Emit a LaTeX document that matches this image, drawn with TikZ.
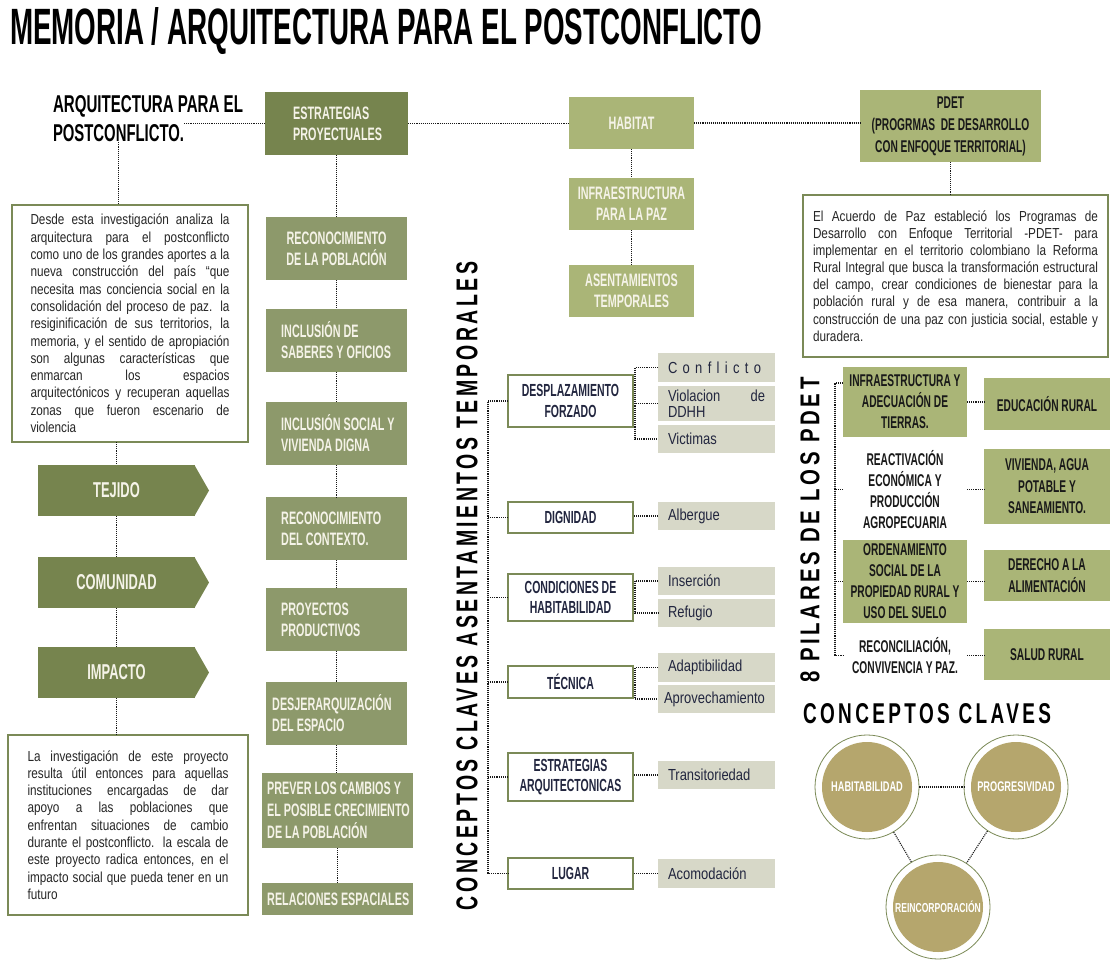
\documentclass[tikz,border=0pt]{standalone}
\usepackage{fontspec}
\setmainfont{Liberation Sans}
\newfontfamily\bebas[FakeStretch=0.6]{Liberation Sans}
\newfontfamily\bebaswide[FakeStretch=0.66]{Liberation Sans}
\newfontfamily\bebasls[FakeStretch=0.9,LetterSpace=16]{Liberation Sans}
\newfontfamily\narrowf[FakeStretch=0.81]{Liberation Sans}
\usetikzlibrary{calc}
\definecolor{dkgreen}{HTML}{76844E}
\definecolor{midgreen}{HTML}{8D996B}
\definecolor{ltgreen}{HTML}{AAB577}
\definecolor{brdgreen}{HTML}{7B8A57}
\definecolor{greyb}{HTML}{D7D8C8}
\definecolor{gold}{HTML}{B5A66D}
\definecolor{navy}{HTML}{22263F}
\definecolor{cream}{HTML}{F5F3E8}
\definecolor{txtdark}{HTML}{262626}
\tikzset{
  dl/.style={densely dotted, line width=1.1pt, black!90},
  base/.style={anchor=north west, inner sep=0pt, outer sep=0pt},
  bfont/.style={font=\bebas\bfseries\fontsize{18}{21}\selectfont},
  stratbox/.style={base, fill=midgreen, minimum width=141pt, minimum height=63pt},
  strattxt/.style={anchor=west, inner sep=0pt, align=left, text=cream, bfont},
  arw/.style={base, fill=dkgreen, minimum width=157pt, minimum height=51pt, text=cream,
     font=\bebas\bfseries\fontsize{21.5}{24}\selectfont},
  tbox/.style={base, draw=brdgreen, line width=2.5pt, fill=white, text=txtdark, align=justify,
     font={\narrowf\fontsize{14.5}{17.3}\selectfont\tolerance=9999 \hyphenpenalty=10000 \exhyphenpenalty=10000 }},
  lbox/.style={base, fill=ltgreen, minimum width=125pt, minimum height=52pt, align=center, text=cream, bfont},
  cbox/.style={base, draw=brdgreen, line width=2.5pt, fill=white, minimum width=125pt, align=center,
     text=navy, font=\bebas\bfseries\fontsize{17.5}{20.5}\selectfont},
  gbox/.style={base, fill=greyb, minimum width=117pt, text width=97pt, inner xsep=10pt, align=left,
     text=navy, font=\narrowf\fontsize{16}{16}\selectfont},
  pbox/.style={base, minimum width=124pt, align=center, text=black!90,
     font=\bebas\bfseries\fontsize{17}{21}\selectfont},
  rbox/.style={base, fill=ltgreen, minimum width=126pt, align=center, text=black!90,
     font=\bebas\bfseries\fontsize{17}{21.5}\selectfont},
  circ/.style={circle, minimum size=104pt, inner sep=0pt, draw=brdgreen, line width=0.8pt, fill=white,
     text=white, font=\bebaswide\bfseries\fontsize{14}{16}\selectfont,
     path picture={\fill[gold] (path picture bounding box.center) circle (45pt);}},
}
\begin{document}
\begin{tikzpicture}[x=1pt,y=-1pt]
\useasboundingbox (0,0) rectangle (1110,963);
\fill[white] (0,0) rectangle (1110,963);

% headings
\node[base] (title) at (10,8) {\resizebox{752pt}{37pt}{\bebas\bfseries MEMORIA / ARQUITECTURA PARA EL POSTCONFLICTO}};
\node[base] (h1) at (53,96) {\resizebox{190pt}{17pt}{\bebas\bfseries ARQUITECTURA PARA EL}};
\node[base] (h2) at (53,125) {\resizebox{131pt}{17pt}{\bebas\bfseries POSTCONFLICTO.}};

% left text boxes and arrows
\node[tbox, text width=199pt, inner xsep=18.5pt, minimum height=237pt] (t1) at (12,205) {Desde esta investigación analiza la\linebreak
arquitectura para el postconflicto\linebreak
como uno de los grandes aportes a la\linebreak
nueva construcción del país “que\linebreak
necesita mas conciencia social en la\linebreak
consolidación del proceso de paz. la\linebreak
resiginificación de sus territorios, la\linebreak
memoria, y el sentido de apropiación\linebreak
son algunas características que\linebreak
enmarcan los espacios\linebreak
arquitectónicos y recuperan aquellas\linebreak
zonas que fueron escenario de\linebreak
violencia};
\node[arw] (tej) at (38,465) {TEJIDO};
\node[arw] (com) at (38,557) {COMUNIDAD};
\node[arw] (imp) at (38,647) {IMPACTO};
\foreach \n in {tej,com,imp}{
  \fill[dkgreen] ([xshift=-0.6pt]\n.north east) -- ([xshift=14pt]\n.east) -- ([xshift=-0.6pt]\n.south east) -- cycle;
}
\node[tbox, text width=201pt, inner xsep=19.5pt, minimum height=180pt] (t2) at (8,735) {La investigación de este proyecto\linebreak
resulta útil entonces para aquellas\linebreak
instituciones encargadas de dar\linebreak
apoyo a las poblaciones que\linebreak
enfrentan situaciones de cambio\linebreak
durante el postconflicto. la escala de\linebreak
este proyecto radica entonces, en el\linebreak
impacto social que pueda tener en un\linebreak
futuro};

% strategy column
\node[stratbox, fill=dkgreen, minimum width=143pt] (s0) at (265,92) {};
\node[strattxt] (s0t) at ([xshift=28pt]s0.west) {ESTRATEGIAS\\PROYECTUALES};
\node[stratbox, align=center, text=cream, bfont] (s1) at (266,217) {RECONOCIMIENTO\\DE LA POBLACIÓN};
\node[stratbox] (s2) at (266,309) {};
\node[strattxt] (s2t) at ([xshift=15pt]s2.west) {INCLUSIÓN DE\\SABERES Y OFICIOS};
\node[stratbox] (s3) at (266,402) {};
\node[strattxt] (s3t) at ([xshift=15pt]s3.west) {INCLUSIÓN SOCIAL Y\\VIVIENDA DIGNA};
\node[stratbox] (s4) at (266,497) {};
\node[strattxt] (s4t) at ([xshift=15pt]s4.west) {RECONOCIMIENTO\\DEL CONTEXTO.};
\node[stratbox] (s5) at (266,588) {};
\node[strattxt] (s5t) at ([xshift=15pt]s5.west) {PROYECTOS\\PRODUCTIVOS};
\node[stratbox] (s6) at (266,682) {};
\node[strattxt] (s6t) at ([xshift=6pt]s6.west) {DESJERARQUIZACIÓN\\DEL ESPACIO};
\node[stratbox, minimum width=151pt, minimum height=75pt] (s7) at (262,773) {};
\node[strattxt, font=\bebas\bfseries\fontsize{18}{22}\selectfont] (s7t) at ([xshift=5pt]s7.west) {PREVER LOS CAMBIOS Y\\EL POSIBLE CRECIMIENTO\\DE LA POBLACIÓN};
\node[stratbox, minimum width=151pt, minimum height=32pt] (s8) at (262,883) {};
\node[strattxt] (s8t) at ([xshift=5pt]s8.west) {RELACIONES ESPACIALES};

% habitat column
\node[lbox] (hab) at (569,97) {HABITAT};
\node[lbox] (inf) at (569,178) {INFRAESTRUCTURA\\PARA LA PAZ};
\node[lbox] (ase) at (569,265) {ASENTAMIENTOS\\TEMPORALES};

% PDET
\node[base, fill=ltgreen, minimum width=181pt, minimum height=72pt, align=center, text=black!90,
  font=\bebas\bfseries\fontsize{17}{22}\selectfont] (pdet) at (860,90) {PDET\\(PROGRMAS\ \ DE DESARROLLO\\CON ENFOQUE TERRITORIAL)};
\node[tbox, text width=285pt, inner xsep=10pt, minimum height=162pt, font={\narrowf\fontsize{14.5}{17.1}\selectfont\tolerance=9999 \hyphenpenalty=10000 }] (t3) at (803,195) {El Acuerdo de Paz estableció los Programas de\linebreak
Desarrollo con Enfoque Territorial -PDET- para\linebreak
implementar en el territorio colombiano la Reforma\linebreak
Rural Integral que busca la transformación estructural\linebreak
del campo, crear condiciones de bienestar para la\linebreak
población rural y de esa manera, contribuir a la\linebreak
construcción de una paz con justicia social, estable y\linebreak
duradera.};

% vertical headings
\node[rotate=90, inner sep=0pt] (v1) at (467,586) {\resizebox{648pt}{21pt}{\bebasls\bfseries CONCEPTOS CLAVES ASENTAMIENTOS TEMPORALES}};
\node[rotate=90, inner sep=0pt] (v2) at (810,530) {\resizebox{305pt}{19pt}{\bebasls\bfseries 8 PILARES DE LOS PDET}};

% concept boxes
\node[cbox, minimum height=52pt] (d1) at (508,375) {DESPLAZAMIENTO\\FORZADO};
\node[cbox, minimum height=31pt] (d2) at (508,502) {DIGNIDAD};
\node[cbox, minimum height=47pt] (d3) at (508,574) {CONDICIONES DE\\HABITABILIDAD};
\node[cbox, minimum height=32pt] (d4) at (508,666) {TÉCNICA};
\node[cbox, minimum height=48pt] (d5) at (508,753) {ESTRATEGIAS\\ARQUITECTONICAS};
\node[cbox, minimum height=31pt] (d6) at (508,858) {LUGAR};

% grey boxes
\node[gbox, minimum height=29pt] (g1) at (658,353) {C o n f l i c t o};
\node[gbox, minimum height=35pt] (g2) at (658,386) {Violacion\hfill de\\DDHH};
\node[gbox, minimum height=28pt] (g3) at (658,425) {Victimas};
\node[gbox, minimum height=28pt] (g4) at (658,502) {Albergue};
\node[gbox, minimum height=28pt] (g5) at (658,567) {Inserción};
\node[gbox, minimum height=28pt] (g6) at (658,599) {Refugio};
\node[gbox, minimum height=29pt] (g7) at (658,653) {Adaptibilidad};
\node[gbox, minimum height=28pt, inner xsep=6pt, text width=105pt] (g8) at (658,685) {Aprovechamiento};
\node[gbox, minimum height=28pt] (g9) at (658,761) {Transitoriedad};
\node[gbox, minimum height=29pt] (g10) at (658,859) {Acomodación};

% pillars
\node[pbox, fill=ltgreen, minimum height=70pt] (p1) at (843,367) {INFRAESTRUCTURA Y\\ADECUACIÓN DE\\TIERRAS.};
\node[pbox, minimum height=77pt] (p2) at (843,450) {REACTIVACIÓN\\ECONÓMICA Y\\PRODUCCIÓN\\AGROPECUARIA};
\node[pbox, fill=ltgreen, minimum height=83pt] (p3) at (843,540) {ORDENAMIENTO\\SOCIAL DE LA\\PROPIEDAD RURAL Y\\USO DEL SUELO};
\node[pbox, minimum height=33pt] (p4) at (843,637) {RECONCILIACIÓN,\\CONVIVENCIA Y PAZ.};
\node[rbox, minimum height=52pt] (r1) at (984,378) {EDUCACIÓN RURAL};
\node[rbox, minimum height=75pt] (r2) at (984,449) {VIVIENDA, AGUA\\POTABLE Y\\SANEAMIENTO.};
\node[rbox, minimum height=51pt] (r3) at (984,550) {DERECHO A LA\\ALIMENTACIÓN};
\node[rbox, minimum height=51pt] (r4) at (984,629) {SALUD RURAL};

% conceptos claves
\node[base] (h3) at (803,703) {\resizebox{248pt}{20pt}{\bebasls\bfseries CONCEPTOS CLAVES}};
\node[circ] (c1) at (867,787) {HABITABILIDAD};
\node[circ] (c2) at (1016,787) {PROGRESIVIDAD};
\node[circ, font=\bebaswide\bfseries\fontsize{13}{15}\selectfont] (c3) at (938,907) {REINCORPORACIÓN};

% connectors
\draw[dl] (s0.west) -- (s0.west -| h2.east);
\draw[dl] (h2.south) -- (h2.south |- t1.north);
\draw[dl] (t1.south -| tej.north) -- (tej.north);
\draw[dl] (tej.south) -- (com.north);
\draw[dl] (com.south) -- (imp.north);
\draw[dl] (imp.south) -- (imp.south |- t2.north);
\draw[dl] (s0.south) -- (s0.south |- s1.north);
\draw[dl] (s1.south) -- (s2.north);
\draw[dl] (s2.south) -- (s3.north);
\draw[dl] (s3.south) -- (s4.north);
\draw[dl] (s4.south) -- (s5.north);
\draw[dl] (s5.south) -- (s6.north);
\draw[dl] (s6.south) -- (s6.south |- s7.north);
\draw[dl] (s7.south) -- (s8.north);
\draw[dl] (s0.east) -- (s0.east -| hab.west);
\draw[dl] (hab.east) -- (hab.east -| pdet.west);
\draw[dl] (hab.south) -- (inf.north);
\draw[dl] (inf.south) -- (ase.north);
\draw[dl] (pdet.south) -- (pdet.south |- t3.north);

\draw[dl] (d1.west) -- ++(-20,0) |- (d6.west);
\foreach \n in {d2,d3,d4,d5}{\draw[dl] (\n.west) -- ++(-20,0);}
\draw[dl] (g1.west) -- ++(-23,0) |- (g3.west);
\draw[dl] (g2.west) -- ++(-23,0);
\draw[dl] (g4.west) -- (g4.west -| d2.east);
\draw[dl] (g5.west) -- ++(-23,0) |- (g6.west);
\draw[dl] (g7.west) -- ++(-23,0) |- (g8.west);
\draw[dl] (g9.west) -- (g9.west -| d5.east);
\draw[dl] (g10.west) -- (g10.west -| d6.east);

\draw[dl] ([yshift=19pt]p1.west) -- ++(-8,0) |- (p4.west);
\draw[dl] (p2.west) -- ++(-8,0);
\draw[dl] (p3.west) -- ++(-8,0);
\draw[dl] (p1.east) -- (p1.east -| r1.west);
\draw[dl] (p2.east) -- (p2.east -| r2.west);
\draw[dl] (p3.east) -- (p3.east -| r3.west);
\draw[dl] (p4.east) -- (p4.east -| r4.west);

\draw[dl] (c1) -- (c2);
\draw[dl] (c1) -- (c3);
\draw[dl] (c2) -- (c3);
\end{tikzpicture}
\end{document}
